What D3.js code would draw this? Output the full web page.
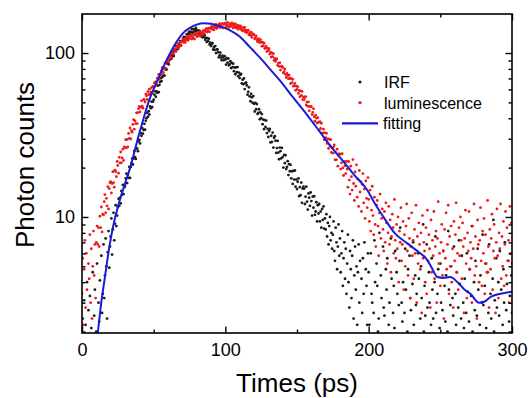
<!DOCTYPE html>
<html>
<head>
<meta charset="utf-8">
<script src="https://cdn.jsdelivr.net/npm/d3@7"></script>
<style>
  body { margin: 0; background: #fff; }
  text { font-family: Arial, "Liberation Sans", sans-serif; }
</style>
</head>
<body>
<div id="wrapper"></div>
<script>
// TCSPC histogram: one value per channel, first channel at 0 ps
const channelWidth = 0.5;

// IRF counts, 10 channels (5 ps) per row
const irfCounts = [
  1.2, 2.4, 0.8, 3.1, 1.5, 2.2, 0.9, 4.0, 1.1, 2.7,
  1.4, 3.3, 0.7, 2.1, 1.8, 4.6, 1.0, 2.5, 3.6, 1.3,
  2.0, 5.2, 1.6, 3.0, 2.3, 4.1, 1.5, 5.8, 2.6, 3.4,
  6.8, 3.2, 4.4, 7.4, 5.0, 2.4, 6.1, 8.2, 4.9, 6.6,
  7.6, 9.8, 5.9, 8.4, 10.6, 7.2, 9.1, 11.8, 8.8, 10.2,
  11.5, 12.9, 11.7, 13.1, 12.1, 14.4, 13.7, 15.7, 13.8, 15.2,
  15.5, 17.2, 18.4, 16.1, 18.1, 17.3, 20.2, 17.3, 20.2, 21.3,
  22.7, 20.9, 22.7, 25.3, 23.2, 22.6, 26.2, 26.1, 25.2, 28.9,
  29.5, 28.1, 32.5, 31.3, 34.8, 32.2, 33.9, 37.0, 34.1, 38.6,
  40.0, 43.2, 40.9, 44.2, 42.2, 47.3, 46.1, 50.6, 46.8, 50.5,
  51.9, 55.8, 58.4, 54.1, 58.4, 57.2, 63.2, 57.7, 64.0, 66.6,
  70.2, 67.4, 71.2, 76.3, 73.3, 72.8, 79.7, 80.1, 79.3, 86.3,
  88.0, 85.2, 93.6, 91.3, 97.7, 92.6, 95.7, 101.4, 95.9, 104.0,
  105.0, 109.9, 105.1, 110.1, 106.0, 114.1, 111.4, 118.2, 111.4, 116.8,
  117.6, 122.4, 125.4, 119.3, 124.5, 122.8, 130.0, 122.8, 130.1, 133.1,
  135.2, 129.8, 134.0, 139.9, 134.4, 132.5, 140.0, 138.8, 135.5, 142.1,
  137.2, 131.0, 137.6, 132.2, 136.4, 128.2, 128.8, 132.2, 124.7, 129.9,
  125.0, 128.3, 120.4, 123.7, 116.8, 123.4, 118.2, 122.4, 112.8, 115.8,
  110.2, 113.7, 114.8, 105.1, 108.9, 104.4, 110.2, 100.0, 105.2, 105.3,
  101.1, 94.2, 96.7, 100.6, 93.8, 90.5, 96.3, 94.0, 90.5, 95.7,
  91.4, 84.9, 92.9, 87.4, 92.6, 84.1, 85.4, 89.1, 80.9, 87.1,
  82.0, 86.1, 77.5, 81.6, 74.2, 81.8, 76.4, 82.1, 72.2, 75.9,
  70.3, 73.6, 74.6, 65.3, 68.8, 64.6, 70.0, 60.3, 65.5, 66.0,
  63.4, 55.7, 58.0, 61.8, 54.4, 50.8, 56.3, 53.7, 49.8, 54.6,
  49.0, 44.0, 49.6, 45.4, 48.8, 42.5, 43.1, 45.4, 39.4, 43.5,
  40.0, 42.4, 36.8, 39.2, 34.3, 39.0, 35.4, 38.7, 32.5, 34.5,
  30.8, 33.4, 34.4, 28.5, 31.3, 28.7, 32.7, 26.5, 30.4, 31.1,
  29.2, 24.6, 26.3, 29.1, 24.7, 22.5, 26.5, 25.2, 22.8, 26.4,
  23.2, 20.0, 23.9, 21.3, 23.8, 19.6, 20.2, 21.9, 18.0, 21.0,
  19.0, 20.8, 17.2, 19.0, 15.9, 19.1, 16.9, 19.2, 15.3, 16.9,
  14.8, 16.4, 17.2, 13.4, 15.2, 13.6, 16.2, 12.2, 14.9, 15.3,
  14.9, 12.0, 13.3, 15.3, 12.4, 11.1, 13.9, 13.1, 11.7, 14.1,
  12.5, 10.2, 13.3, 11.4, 13.4, 10.3, 10.8, 12.3, 9.4, 11.8,
  10.5, 12.0, 9.4, 10.8, 8.6, 11.2, 9.6, 11.6, 8.5, 9.8,
  8.4, 10.4, 7.6, 9.2, 6.8, 8.8, 10.0, 7.2, 8.0, 6.4,
  7.8, 9.4, 6.2, 5.4, 8.6, 7.0, 4.8, 6.6, 9.0, 5.8,
  7.4, 4.6, 6.0, 8.2, 3.8, 5.6, 7.0, 4.2, 6.4, 3.4,
  5.2, 7.8, 4.0, 2.8, 6.2, 4.8, 3.2, 5.8, 7.2, 2.4,
  4.4, 6.6, 3.6, 5.0, 2.2, 4.6, 6.8, 3.0, 5.4, 1.6,
  4.2, 2.6, 5.6, 3.4, 7.0, 1.8, 4.8, 3.8, 2.2, 6.0,
  4.6, 2.2, 1.3, 6.0, 3.4, 3.0, 1.6, 2.6, 7.2, 4.0,
  1.1, 5.2, 3.8, 2.0, 2.4, 8.0, 1.4, 4.4, 3.2, 1.8,
  6.6, 2.8, 2.5, 1.2, 4.8, 3.6, 5.6, 1.5, 2.2, 3.0,
  1.9, 7.4, 4.2, 1.0, 2.6, 3.8, 2.1, 6.2, 1.3, 4.6,
  3.4, 1.7, 2.9, 5.4, 8.6, 1.4, 3.0, 2.3, 4.0, 1.1,
  2.6, 6.4, 3.6, 1.6, 2.0, 4.8, 1.2, 5.8, 3.2, 2.7,
  1.5, 3.9, 7.0, 2.2, 1.0, 4.4, 2.9, 3.4, 1.8, 6.0,
  4.2, 1.3, 2.4, 5.0, 3.2, 1.6, 9.0, 2.0, 3.8, 2.5,
  1.2, 6.8, 2.8, 1.9, 4.6, 3.0, 1.4, 2.2, 5.6, 3.6,
  2.4, 1.0, 4.0, 7.6, 2.6, 1.7, 3.4, 4.8, 1.3, 2.1,
  5.2, 3.0, 1.5, 2.7, 6.2, 1.2, 3.8, 2.3, 4.4, 1.8,
  2.0, 8.2, 3.6, 1.4, 2.9, 5.0, 1.1, 3.2, 2.5, 6.6,
  1.6, 3.4, 2.2, 4.6, 1.3, 2.8, 7.2, 3.9, 1.9, 2.4,
  5.8, 1.2, 3.0, 2.1, 4.2, 1.5, 2.6, 6.0, 3.5, 1.0,
  2.3, 4.8, 1.7, 3.3, 8.8, 2.0, 1.4, 4.0, 2.7, 5.4,
  1.3, 2.5, 6.4, 3.6, 1.8, 2.2, 4.4, 1.1, 3.0, 7.8,
  2.9, 1.5, 3.8, 5.2, 2.1, 1.2, 4.6, 2.6, 6.8, 1.7,
  3.4, 2.4, 1.3, 4.2, 9.6, 2.0, 3.1, 1.6, 5.6, 2.8,
  1.4, 4.0, 2.5, 6.2, 1.9, 3.6, 1.1, 2.2, 4.8, 3.0,
  7.0, 1.6, 2.7, 3.9, 1.2, 5.4, 2.3, 3.3, 1.8, 4.4,
  2.6
];

// luminescence counts, same channels
const lumCounts = [
  3.4, 5.6, 2.2, 4.8, 7.2, 2.8, 6.0, 3.6, 1.4, 5.2,
  4.2, 7.8, 3.0, 6.4, 2.4, 5.0, 8.2, 4.4, 6.8, 3.2,
  7.0, 8.8, 6.8, 8.6, 6.6, 10.1, 8.6, 11.5, 8.1, 10.4,
  10.3, 12.4, 13.7, 10.6, 13.0, 11.7, 15.3, 11.2, 14.9, 16.2,
  16.4, 14.0, 16.0, 18.9, 16.2, 15.2, 19.3, 18.9, 17.6, 21.8,
  20.6, 18.5, 23.1, 21.4, 24.9, 21.4, 22.9, 25.9, 22.1, 26.8,
  26.5, 29.6, 26.4, 29.7, 26.8, 32.3, 30.2, 34.9, 29.9, 33.6,
  32.9, 36.7, 39.2, 34.3, 38.6, 37.1, 43.2, 37.1, 43.3, 45.8,
  47.2, 43.7, 46.8, 51.1, 47.4, 46.1, 52.1, 51.8, 50.2, 56.2,
  54.8, 52.1, 58.1, 55.7, 60.2, 55.9, 57.8, 61.5, 56.9, 62.5,
  62.0, 65.7, 62.9, 66.8, 64.2, 70.3, 68.7, 74.0, 69.5, 73.6,
  73.8, 78.2, 81.3, 76.4, 81.4, 80.2, 87.0, 81.0, 88.0, 90.8,
  92.5, 88.7, 92.7, 97.9, 94.0, 93.0, 100.1, 100.0, 98.6, 105.6,
  104.9, 102.1, 109.6, 107.4, 112.9, 108.4, 111.0, 115.7, 110.9, 117.7,
  117.0, 121.2, 116.2, 120.4, 116.1, 123.2, 120.3, 126.1, 119.4, 123.7,
  122.5, 126.5, 128.8, 121.6, 126.1, 123.4, 129.8, 121.8, 128.2, 130.0,
  131.1, 125.5, 129.1, 134.4, 128.6, 126.5, 133.7, 132.7, 130.0, 137.0,
  135.2, 130.7, 139.0, 135.2, 141.2, 134.4, 136.8, 141.6, 134.7, 142.1,
  141.0, 145.6, 139.3, 144.0, 138.5, 146.6, 142.8, 149.3, 141.1, 145.9,
  144.2, 148.8, 151.2, 142.7, 147.8, 144.5, 151.7, 142.3, 149.6, 151.6,
  151.9, 144.7, 148.3, 153.6, 146.5, 143.4, 151.0, 149.2, 145.6, 152.7,
  148.3, 142.3, 150.3, 145.1, 150.5, 142.2, 143.7, 147.7, 139.5, 146.2,
  143.0, 146.6, 139.2, 142.7, 136.1, 143.0, 138.2, 143.3, 134.4, 137.8,
  133.4, 136.6, 137.7, 128.9, 132.5, 128.4, 133.9, 124.5, 129.8, 130.6,
  129.0, 122.0, 124.0, 127.4, 120.5, 117.0, 122.2, 119.7, 115.9, 120.5,
  116.2, 109.9, 116.4, 110.9, 114.9, 106.7, 107.2, 109.8, 102.0, 106.8,
  103.5, 106.3, 98.5, 101.3, 94.5, 100.2, 95.0, 99.1, 90.3, 92.7,
  89.1, 91.5, 92.2, 84.1, 86.8, 82.9, 87.2, 78.7, 82.9, 83.1,
  81.5, 75.6, 77.1, 79.9, 74.0, 71.0, 75.1, 73.0, 69.7, 73.3,
  69.9, 65.1, 70.0, 65.9, 69.0, 62.8, 63.1, 65.2, 59.2, 62.9,
  60.0, 62.3, 56.8, 59.0, 54.2, 58.7, 55.1, 58.3, 52.0, 54.0,
  51.9, 53.8, 54.1, 48.2, 50.2, 47.3, 50.4, 44.4, 47.2, 47.3,
  47.2, 42.1, 43.4, 45.8, 40.9, 38.4, 41.8, 40.1, 37.4, 40.3,
  37.8, 33.9, 38.1, 34.7, 37.3, 32.2, 32.6, 34.3, 29.6, 32.6,
  30.5, 32.4, 28.1, 29.9, 26.2, 29.8, 27.1, 29.6, 24.8, 26.4,
  24.5, 26.7, 27.5, 22.3, 24.7, 22.4, 25.9, 20.4, 23.7, 24.3,
  24.1, 19.6, 21.4, 24.3, 19.9, 17.9, 21.8, 20.5, 18.4, 21.8,
  19.6, 15.2, 21.8, 16.8, 13.8, 20.4, 17.6, 14.6, 22.4, 16.0,
  12.6, 18.8, 15.4, 20.8, 13.2, 17.0, 11.6, 19.2, 14.2, 16.4,
  10.8, 15.8, 18.4, 12.2, 14.8, 9.8, 16.6, 13.0, 11.4, 17.4,
  12.8, 9.4, 14.6, 8.2, 11.0, 15.4, 10.2, 7.8, 13.2, 9.0,
  6.6, 11.8, 12.6, 8.8, 5.8, 10.6, 13.8, 7.4, 9.8, 11.2,
  8.4, 6.2, 10.8, 7.0, 12.2, 9.2, 5.2, 8.0, 11.6, 6.8,
  9.6, 4.6, 7.6, 10.4, 8.6, 6.0, 12.8, 7.2, 5.6, 9.0,
  6.4, 10.0, 4.0, 8.2, 7.0, 11.4, 5.4, 6.8, 9.4, 3.6,
  7.8, 5.0, 8.8, 12.0, 6.2, 4.4, 9.8, 7.4, 3.2, 6.6,
  10.6, 5.8, 7.2, 4.2, 8.4, 6.0, 11.8, 3.0, 7.6, 5.2,
  9.2, 6.8, 4.8, 8.0, 2.6, 10.2, 5.6, 7.0, 6.2, 4.0,
  8.6, 3.4, 11.0, 5.4, 7.8, 6.4, 2.8, 9.6, 4.6, 7.2,
  5.8, 10.8, 4.2, 6.6, 8.2, 3.0, 7.4, 12.4, 5.2, 6.0,
  3.8, 7.0, 9.0, 4.4, 6.2, 2.4, 8.4, 5.6, 10.6, 4.8,
  6.8, 11.8, 3.4, 7.6, 5.0, 8.8, 4.0, 6.4, 2.8, 9.4,
  5.4, 7.8, 12.2, 4.6, 6.0, 3.6, 8.6, 5.8, 10.0, 7.2,
  4.2, 9.2, 6.6, 2.6, 7.4, 11.0, 5.2, 3.2, 8.0, 6.2,
  10.8, 4.8, 7.0, 5.6, 3.0, 8.8, 6.4, 12.0, 4.4, 7.6,
  5.0, 2.4, 9.6, 6.8, 4.0, 7.2, 11.4, 5.4, 3.8, 8.2,
  6.0, 9.8, 3.4, 7.8, 5.2, 4.6, 12.6, 6.6, 2.8, 8.4,
  4.8, 7.4, 10.4, 3.6, 6.2, 9.0, 5.6, 2.6, 7.0, 11.2,
  5.8, 3.2, 8.0, 6.4, 12.0, 4.2, 7.6, 5.0, 9.4, 3.8,
  6.8, 10.8, 4.4, 8.6, 5.4, 7.2, 3.0, 11.6, 6.0, 9.2,
  5.2
];

// fitted decay curve
const fitTimes = [11, 13, 16, 19, 22, 25, 30, 34, 38, 43, 47, 52, 57, 62, 66, 70, 75, 80, 85, 90,
  96, 103, 110, 117, 124, 131, 138, 147, 157, 166, 175, 182, 190, 199, 204, 212, 218, 227, 236, 240,
  244, 248, 252, 257, 262, 267, 271, 277, 281, 285, 292, 300];
const fitCounts = [1.96, 2.8, 4.3, 6.5, 9, 11.5, 16, 20.5, 28, 40, 52, 66, 83, 102, 117, 131, 142, 149, 152, 151,
  146, 138, 126, 109, 94, 80, 68, 54, 42, 33, 26, 22, 18, 14.6, 12.2, 9.5, 8.0, 6.9, 6.0, 5.6,
  4.9, 4.3, 4.25, 4.3, 4.0, 3.6, 3.4, 3.0, 3.05, 3.25, 3.4, 3.5];

const xTicks = [0, 100, 200, 300];
const xMinorTicks = [50, 150, 250];
const yTicks = [10, 100];
const yMinorTicks = [2, 3, 4, 5, 6, 7, 8, 9, 20, 30, 40, 50, 60, 70, 80, 90];
const legendLabels = ["IRF", "luminescence", "fitting"];

function draw() {
  const dimensions = {
    width: 529,
    height: 398,
    margin: { top: 14, right: 17, bottom: 65, left: 82 }
  };
  dimensions.boundedWidth = dimensions.width - dimensions.margin.left - dimensions.margin.right;
  dimensions.boundedHeight = dimensions.height - dimensions.margin.top - dimensions.margin.bottom;

  const colors = { irf: "#1c1c1c", lum: "#ee1a1a", fit: "#1a1ad8" };

  const svg = d3.select("#wrapper")
    .append("svg")
    .attr("width", dimensions.width)
    .attr("height", dimensions.height);

  const bounds = svg.append("g")
    .attr("transform", "translate(" + dimensions.margin.left + "," + dimensions.margin.top + ")");

  // Scales
  const xScale = d3.scaleLinear().domain([0, 300]).range([0, dimensions.boundedWidth]);
  const yScale = d3.scaleLog().domain([1.96, 173]).range([dimensions.boundedHeight, 0]);

  bounds.append("clipPath")
    .attr("id", "plot-clip")
    .append("rect")
    .attr("width", dimensions.boundedWidth)
    .attr("height", dimensions.boundedHeight);

  const plot = bounds.append("g").attr("clip-path", "url(#plot-clip)");

  const toPoints = counts => counts.map((v, i) => ({ t: i * channelWidth, v: v }));

  // Scatter series
  [[irfCounts, colors.irf], [lumCounts, colors.lum]].forEach(([counts, color]) => {
    plot.append("g")
      .selectAll("circle")
      .data(toPoints(counts).filter(d => d.v >= yScale.domain()[0] * 0.97))
      .enter()
      .append("circle")
      .attr("cx", d => xScale(d.t))
      .attr("cy", d => yScale(d.v))
      .attr("r", 1.4)
      .attr("fill", color);
  });

  // Fit curve
  const fitLine = d3.line()
    .x(d => xScale(d[0]))
    .y(d => yScale(d[1]))
    .curve(d3.curveMonotoneX);
  plot.append("path")
    .attr("d", fitLine(d3.zip(fitTimes, fitCounts)))
    .attr("fill", "none")
    .attr("stroke", colors.fit)
    .attr("stroke-width", 2);

  // Axes, ticks pointing inward on all four sides
  const styleAxis = g => {
    g.select(".domain").remove();
    g.selectAll("line").attr("stroke", "#000").attr("stroke-width", 1.4);
    g.selectAll("text").attr("fill", "#000").attr("font-size", 18)
      .attr("font-family", "Arial, 'Liberation Sans', sans-serif");
  };
  const axisSet = [
    [d3.axisBottom, xScale, "translate(0," + dimensions.boundedHeight + ")", true],
    [d3.axisTop, xScale, null, false],
    [d3.axisLeft, yScale, null, true],
    [d3.axisRight, yScale, "translate(" + dimensions.boundedWidth + ",0)", false]
  ];
  axisSet.forEach(([axisFn, scale, transform, labelled]) => {
    const isX = scale === xScale;
    const major = axisFn(scale)
      .tickValues(isX ? xTicks : yTicks)
      .tickSizeInner(-6.5)
      .tickSizeOuter(0)
      .tickPadding(isX ? 10 : 7)
      .tickFormat(labelled ? d3.format("d") : "");
    const minor = axisFn(scale)
      .tickValues(isX ? xMinorTicks : yMinorTicks)
      .tickSizeInner(-3.5)
      .tickSizeOuter(0)
      .tickFormat("");
    const g = bounds.append("g");
    if (transform) g.attr("transform", transform);
    g.append("g").call(major).call(styleAxis);
    g.append("g").call(minor).call(styleAxis);
  });

  // Frame
  bounds.append("rect")
    .attr("width", dimensions.boundedWidth)
    .attr("height", dimensions.boundedHeight)
    .attr("fill", "none")
    .attr("stroke", "#000")
    .attr("stroke-width", 1.6);

  // Axis titles
  bounds.append("text")
    .attr("x", dimensions.boundedWidth / 2)
    .attr("y", dimensions.boundedHeight + 59)
    .attr("text-anchor", "middle")
    .attr("font-size", 26)
    .text("Times (ps)");

  svg.append("text")
    .attr("transform", "translate(34,165) rotate(-90)")
    .attr("text-anchor", "middle")
    .attr("font-size", 26)
    .text("Photon counts");

  // Legend
  const legend = svg.append("g").attr("transform", "translate(360,82)");
  const rowGap = 20.7;
  legend.append("circle").attr("cx", 0).attr("cy", 0).attr("r", 1.6).attr("fill", colors.irf);
  legend.append("circle").attr("cx", 0).attr("cy", rowGap).attr("r", 1.6).attr("fill", colors.lum);
  legend.append("line")
    .attr("x1", -18).attr("x2", 18)
    .attr("y1", rowGap * 2).attr("y2", rowGap * 2)
    .attr("stroke", colors.fit)
    .attr("stroke-width", 2.2);
  legend.selectAll("text.label")
    .data(legendLabels)
    .enter()
    .append("text")
    .attr("class", "label")
    .attr("x", (d, i) => i === 2 ? 23 : 24)
    .attr("y", (d, i) => i * rowGap + 6)
    .attr("font-size", 16)
    .text(d => d);
}
draw();
</script>
</body>
</html>
